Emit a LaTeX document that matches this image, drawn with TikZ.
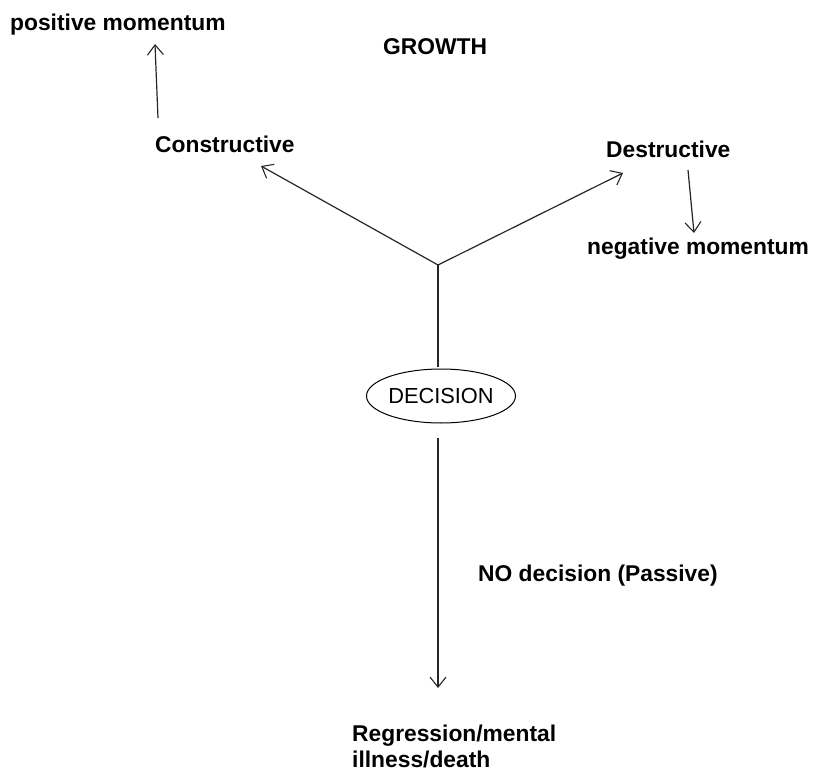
\documentclass[tikz,border=0pt]{standalone}
\usepackage{fontspec}
\setmainfont{Liberation Sans}
\usetikzlibrary{arrows.meta,shapes.geometric}
\begin{document}
\begin{tikzpicture}[x=1pt,y=-1pt,
  lbl/.style={font=\fontsize{22.8}{26}\selectfont\bfseries, inner sep=0pt, anchor=base west},
  conn/.style={line width=1.2pt, draw=black!85},
  arr/.style={conn, -{Straight Barb[length=10pt,width=16pt,line width=1.1pt]}}]
\useasboundingbox (0,0) rectangle (817,773);
\node[lbl] (pos) at (10,31) {positive momentum};
\node[lbl] (growth) at (383,55) {GROWTH};
\node[lbl] (cons) at (155,153) {Constructive};
\node[lbl] (des) at (606,158) {Destructive};
\node[lbl] (neg) at (587,254) {negative momentum};
\node[ellipse, draw, line width=1pt, minimum width=146pt, minimum height=54pt, inner sep=0pt,
      font=\fontsize{21.8}{26}\selectfont] (dec) at (441,396) {DECISION};
\node[lbl] (nodec) at (478,581) {NO decision (Passive)};
\node[lbl, align=left, anchor=north west] (reg) at (352,725) {Regression/mental\\illness/death};
\coordinate (J) at (438,265);
\coordinate (ctip) at (261,166);
\coordinate (dtip) at (623,173);
\coordinate (pstart) at (158,118);
\coordinate (ptip) at (155,44);
\coordinate (nstart) at (688,170);
\coordinate (ntip) at (694,233);
\coordinate (vtop) at (438,367);
\coordinate (vbot) at (438,438);
\coordinate (rtip) at (438,688);
\draw[arr] (J) -- (ctip);
\draw[arr] (J) -- (dtip);
\draw[conn] (J) -- (vtop);
\draw[arr] (pstart) -- (ptip);
\draw[arr] (nstart) -- (ntip);
\draw[arr] (vbot) -- (rtip);
\end{tikzpicture}
\end{document}
